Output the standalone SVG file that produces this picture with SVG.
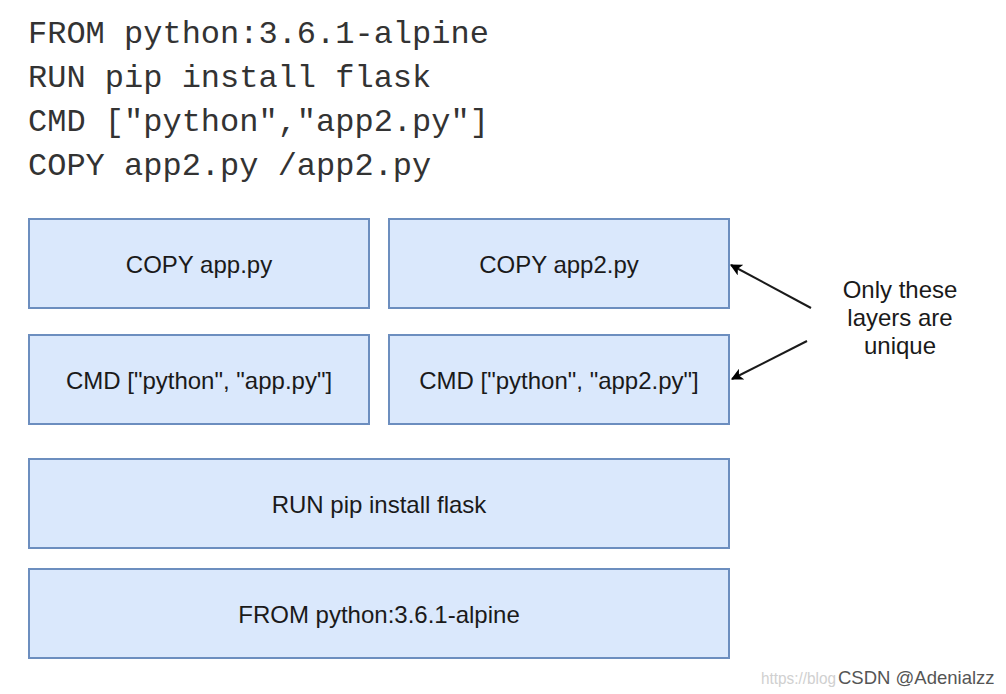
<svg xmlns="http://www.w3.org/2000/svg" width="1006" height="694" viewBox="0 0 1006 694">
<defs>
<style>
.code{font-family:"Liberation Mono","Courier New",monospace;font-size:32px;fill:#333333}
.box{fill:#dae8fc;stroke:#6c8ebf;stroke-width:2}
.lbl{font-family:"Liberation Sans",Arial,sans-serif;font-size:24px;fill:#1a1a1a;text-anchor:middle}
.conn{stroke:#1a1a1a;stroke-width:2;fill:none}
</style>
<marker id="arr" viewBox="0 0 10 10" refX="9" refY="5" markerWidth="12" markerHeight="12" orient="auto" markerUnits="userSpaceOnUse">
<path d="M0,0 L10,5 L0,10 L2.5,5 Z" fill="#000"/>
</marker>
</defs>
<rect width="1006" height="694" fill="#ffffff"/>
<g id="dockerfile">
<text class="code" x="28" y="43">FROM python:3.6.1-alpine</text>
<text class="code" x="28" y="87">RUN pip install flask</text>
<text class="code" x="28" y="131">CMD ["python","app2.py"]</text>
<text class="code" x="28" y="175">COPY app2.py /app2.py</text>
</g>
<g id="copy-app"><rect class="box" x="29" y="219" width="340" height="89"/><text class="lbl" x="199" y="272.5">COPY app.py</text></g>
<g id="copy-app2"><rect class="box" x="389" y="219" width="340" height="89"/><text class="lbl" x="559" y="272.5">COPY app2.py</text></g>
<g id="cmd-app"><rect class="box" x="29" y="335" width="340" height="89"/><text class="lbl" x="199" y="388.5">CMD ["python", "app.py"]</text></g>
<g id="cmd-app2"><rect class="box" x="389" y="335" width="340" height="89"/><text class="lbl" x="559" y="388.5">CMD ["python", "app2.py"]</text></g>
<g id="run"><rect class="box" x="29" y="459" width="700" height="89"/><text class="lbl" x="379" y="512.5">RUN pip install flask</text></g>
<g id="from"><rect class="box" x="29" y="569" width="700" height="89"/><text class="lbl" x="379" y="622.5">FROM python:3.6.1-alpine</text></g>
<g id="note">
<text class="lbl" x="900" y="298">Only these</text>
<text class="lbl" x="900" y="326">layers are</text>
<text class="lbl" x="900" y="354">unique</text>
</g>
<g id="connectors">
<line class="conn" x1="811" y1="308" x2="731" y2="265" marker-end="url(#arr)"/>
<line class="conn" x1="807" y1="341" x2="732" y2="379" marker-end="url(#arr)"/>
</g>
<g id="watermark" font-family="Liberation Sans,Arial,sans-serif">
<text x="761" y="684" font-size="16" fill="#d0d0d0" textLength="75" lengthAdjust="spacingAndGlyphs">https://blog</text>
<text x="838" y="684" font-size="18.5" fill="#555555">CSDN @Adenialzz</text>
</g>
</svg>
